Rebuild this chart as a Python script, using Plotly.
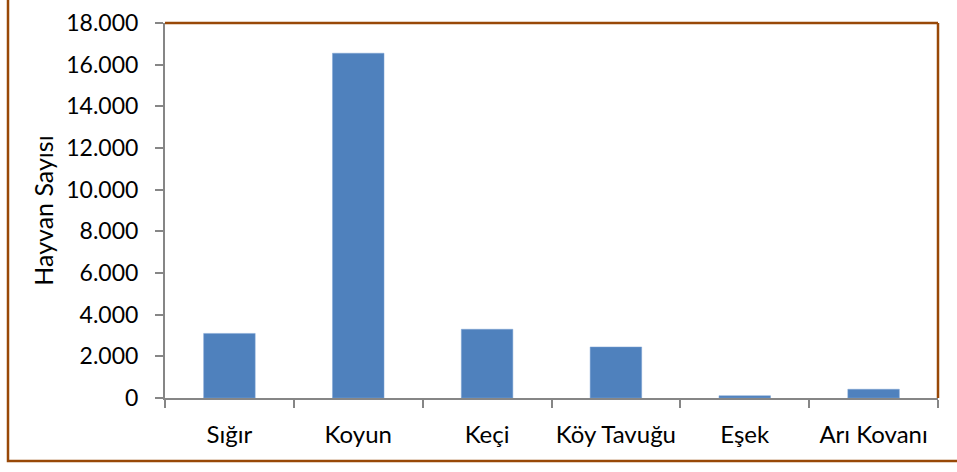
import plotly.graph_objects as go

categories = ["Sığır", "Koyun", "Keçi", "Köy Tavuğu", "Eşek", "Arı Kovanı"]
values = [3100, 16550, 3300, 2450, 110, 420]
y_tickvals = [0, 2000, 4000, 6000, 8000, 10000, 12000, 14000, 16000, 18000]
y_ticktext = ["0", "2.000", "4.000", "6.000", "8.000", "10.000", "12.000", "14.000", "16.000", "18.000"]

FONT = "Lato, Carlito, Calibri, sans-serif"
BROWN = "#984807"
GRAY = "#868686"

fig = go.Figure(go.Bar(
    x=categories, y=values,
    marker=dict(color="#4F81BD", line=dict(color="#7EA4D4", width=0.5)),
))

fig.update_layout(
    width=957, height=472,
    margin=dict(l=165, r=19, t=23, b=74),
    paper_bgcolor="white", plot_bgcolor="white",
    bargap=0.6,
    showlegend=False,
    font=dict(family=FONT, size=23, color="black"),
    xaxis=dict(
        type="category", tickson="boundaries", ticks="outside", ticklen=8,
        tickcolor=GRAY, tickwidth=2, showline=True, linecolor=GRAY, linewidth=2,
        showgrid=False, tickangle=0, automargin=False, ticklabelstandoff=14,
        tickfont=dict(family=FONT, size=24, color="black"),
    ),
    yaxis=dict(
        range=[0, 18000], tickvals=y_tickvals, ticktext=y_ticktext,
        ticks="outside", ticklen=8, tickcolor=GRAY, tickwidth=2,
        showline=True, linecolor=GRAY, linewidth=2, showgrid=False, zeroline=False,
        automargin=False, ticklabelstandoff=12,
        tickfont=dict(family=FONT, size=23, color="black"),
        title=dict(text="Hayvan Sayısı", font=dict(family=FONT, size=25, color="black"), standoff=6),
    ),
    shapes=[
        dict(type="line", xref="paper", yref="paper", x0=0, x1=1, y0=1, y1=1,
             line=dict(color=BROWN, width=2.5)),
        dict(type="line", xref="paper", yref="paper", x0=1, x1=1, y0=0, y1=1,
             line=dict(color=BROWN, width=2.5)),
        dict(type="rect", xref="paper", yref="paper", x0=-0.2031, x1=1.2, y0=-0.168, y1=1.3,
             line=dict(color=BROWN, width=2.5), layer="below"),
    ],
)

fig.write_html(
    "out.html",
    config={"displayModeBar": False},
    post_script="document.body.style.margin='0';document.body.style.padding='0';",
)
